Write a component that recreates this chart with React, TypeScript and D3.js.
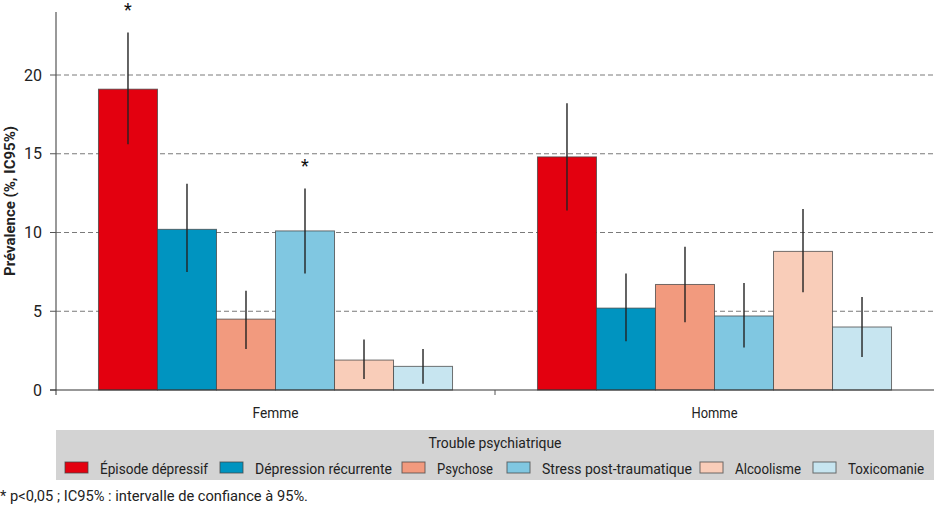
import React from "react";
import * as d3 from "d3";

const groups = ["Femme", "Homme"];
const series = [
  "Épisode dépressif",
  "Dépression récurrente",
  "Psychose",
  "Stress post-traumatique",
  "Alcoolisme",
  "Toxicomanie",
];
const colors = ["#e3000f", "#0094c0", "#f29a7e", "#80c7e1", "#f9cdb9", "#c7e5f0"];
const femmeValues = [19.1, 10.2, 4.5, 10.1, 1.9, 1.5];
const femmeLow = [15.6, 7.5, 2.6, 7.4, 0.7, 0.4];
const femmeHigh = [22.7, 13.1, 6.3, 12.8, 3.2, 2.6];
const hommeValues = [14.8, 5.2, 6.7, 4.7, 8.8, 4.0];
const hommeLow = [11.4, 3.1, 4.3, 2.7, 6.2, 2.1];
const hommeHigh = [18.2, 7.4, 9.1, 6.8, 11.5, 5.9];
const femmeSignif = [true, false, false, true, false, false];
const hommeSignif = [false, false, false, false, false, false];
const yTicks = [0, 5, 10, 15, 20];

const FONT = "'Roboto', 'Liberation Sans', sans-serif";

export default function App() {
  const W = 934;
  const H = 506;
  const left = 56;
  const right = 934;
  const top = 12;
  const bottom = 390;

  const y = d3.scaleLinear().domain([0, 24]).range([bottom, top]);
  const x0 = d3.scaleBand().domain(groups).range([left, right]).padding(0);
  const x1 = d3
    .scaleBand()
    .domain(series)
    .range([0, x0.bandwidth()])
    .paddingInner(0)
    .paddingOuter(0.72);

  const data = [
    { g: "Femme", v: femmeValues, lo: femmeLow, hi: femmeHigh, s: femmeSignif },
    { g: "Homme", v: hommeValues, lo: hommeLow, hi: hommeHigh, s: hommeSignif },
  ];

  const legendX = [65, 220, 402, 507, 700, 813];
  const legendW = [108, 137, 56, 150, 66, 76];

  return (
    <svg
      width={W}
      height={H}
      style={{ position: "absolute", left: 0, top: 0, display: "block", background: "#fff" }}
      fontFamily={FONT}
    >
      {/* grid */}
      {yTicks.filter((t) => t > 0).map((t) => (
        <line
          key={"g" + t}
          x1={left}
          x2={right}
          y1={y(t)}
          y2={y(t)}
          stroke="#7a7a7a"
          strokeWidth={1}
          strokeDasharray="5,3"
        />
      ))}
      {/* y ticks */}
      {yTicks.map((t) => (
        <g key={"t" + t}>
          <line x1={50} x2={left} y1={y(t)} y2={y(t)} stroke="#555" strokeWidth={1} />
          <text x={42} y={y(t) + 5.5} textAnchor="end" fontSize={16} fill="#222">
            {t}
          </text>
        </g>
      ))}
      {/* bars */}
      {data.map((d) =>
        series.map((s, i) => {
          const bx = (x0(d.g) as number) + (x1(s) as number);
          const bw = x1.bandwidth();
          const cx = bx + bw / 2;
          return (
            <g key={d.g + s}>
              <rect
                x={bx}
                y={y(d.v[i])}
                width={bw}
                height={y(0) - y(d.v[i])}
                fill={colors[i]}
                stroke="#444"
                strokeOpacity={0.75}
                strokeWidth={1}
              />
              <line x1={cx} x2={cx} y1={y(d.lo[i])} y2={y(d.hi[i])} stroke="#222" strokeWidth={1.4} />
              {d.s[i] && (
                <text x={cx} y={y(d.hi[i]) - 16} textAnchor="middle" fontSize={18} fill="#111">
                  *
                </text>
              )}
            </g>
          );
        })
      )}
      {/* axes */}
      <line x1={left} x2={left} y1={top} y2={bottom + 5} stroke="#555" strokeWidth={1.2} />
      <line x1={50} x2={right} y1={bottom} y2={bottom} stroke="#333" strokeWidth={1.2} />
      <line
        x1={x0("Homme") as number}
        x2={x0("Homme") as number}
        y1={bottom}
        y2={bottom + 5}
        stroke="#555"
        strokeWidth={1}
      />
      {groups.map((g) => (
        <text
          key={g}
          x={(x0(g) as number) + x0.bandwidth() / 2}
          y={418}
          textAnchor="middle"
          fontSize={15.5}
          fill="#222"
          textLength={46}
          lengthAdjust="spacingAndGlyphs"
        >
          {g}
        </text>
      ))}
      {/* y label */}
      <text
        transform={`translate(15, ${(top + bottom) / 2}) rotate(-90)`}
        textAnchor="middle"
        fontSize={15.5}
        fontWeight="bold"
        fill="#222"
        textLength={150}
        lengthAdjust="spacingAndGlyphs"
      >
        Prévalence (%, IC95%)
      </text>
      {/* legend */}
      <rect x={left} y={430} width={right - left} height={50} fill="#d3d3d3" />
      <text
        x={(left + right) / 2}
        y={448}
        textAnchor="middle"
        fontSize={15.5}
        fill="#222"
        textLength={133}
        lengthAdjust="spacingAndGlyphs"
      >
        Trouble psychiatrique
      </text>
      {series.map((s, i) => (
        <g key={"l" + s}>
          <rect
            x={legendX[i]}
            y={462}
            width={23}
            height={11}
            fill={colors[i]}
            stroke="#444"
            strokeOpacity={0.75}
            strokeWidth={1}
          />
          <text
            x={legendX[i] + 35}
            y={473.5}
            fontSize={15}
            fill="#222"
            textLength={legendW[i]}
            lengthAdjust="spacingAndGlyphs"
          >
            {s}
          </text>
        </g>
      ))}
      <text
        x={0}
        y={501}
        fontSize={14.5}
        fill="#222"
        textLength={308}
        lengthAdjust="spacingAndGlyphs"
      >
        * p&lt;0,05 ; IC95% : intervalle de confiance à 95%.
      </text>
    </svg>
  );
}
